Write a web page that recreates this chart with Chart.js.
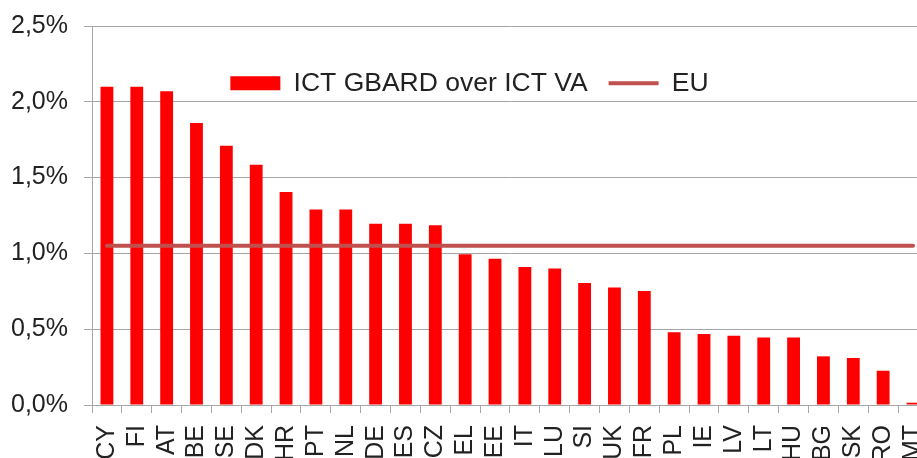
<!DOCTYPE html>
<html>
<head>
<meta charset="utf-8">
<script src="https://cdn.jsdelivr.net/npm/chart.js@4.4.0/dist/chart.umd.min.js"></script>
<style>
  html, body { margin: 0; padding: 0; background: #fff; overflow: hidden; }
  #wrap { width: 955px; height: 458px; }
</style>
</head>
<body>
<div id="wrap"><canvas id="chart"></canvas></div>
<script>
// ── Data ─────────────────────────────────────────────────────────────────
var countries = ['CY', 'FI', 'AT', 'BE', 'SE', 'DK', 'HR', 'PT', 'NL', 'DE', 'ES', 'CZ', 'EL', 'EE',
                 'IT', 'LU', 'SI', 'UK', 'FR', 'PL', 'IE', 'LV', 'LT', 'HU', 'BG', 'SK', 'RO', 'MT'];
var gbardShare = [2.10, 2.10, 2.07, 1.86, 1.71, 1.585, 1.405, 1.29, 1.29, 1.195, 1.195, 1.185, 0.995, 0.965,
                  0.91, 0.90, 0.805, 0.775, 0.752, 0.48, 0.468, 0.457, 0.446, 0.446, 0.321, 0.31, 0.226, 0.015];
var euShare = [1.05, 1.05, 1.05, 1.05, 1.05, 1.05, 1.05, 1.05, 1.05, 1.05, 1.05, 1.05, 1.05, 1.05,
               1.05, 1.05, 1.05, 1.05, 1.05, 1.05, 1.05, 1.05, 1.05, 1.05, 1.05, 1.05, 1.05, 1.05];
var yMax = 2.5;
var yStep = 0.5;

var GRID = '#a6a6a6';
var TEXT = '#222222';
var FONT = '"Liberation Sans", Arial, sans-serif';

// legend sits inside the plot area in the original, so move it after layout
var moveLegend = {
    id: 'moveLegend',
    beforeDraw: function (chart) {
        var lg = chart.legend;
        lg.top = 49;
        lg.bottom = 125;
        lg.height = 76;
        lg.left = -8;
        lg.right = lg.left + lg.width;
    }
};

new Chart(document.getElementById('chart'), {
    data: {
        labels: countries,
        datasets: [{
            type: 'bar',
            label: 'ICT GBARD over ICT VA',
            data: gbardShare,
            backgroundColor: '#ff0000',
            borderWidth: 0,
            pointStyle: 'rect',
            categoryPercentage: 1.0,
            barPercentage: 0.43,
            order: 1
        }, {
            type: 'line',
            label: 'EU',
            data: euShare,
            borderColor: '#c0504d',
            borderWidth: 4,
            borderCapStyle: 'round',
            pointRadius: 0,
            pointStyle: 'line',
            pointBorderWidth: 4,
            pointBorderColor: '#c0504d',
            pointBackgroundColor: '#c0504d',
            order: 0
        }]
    },
    plugins: [moveLegend],
    options: {
        responsive: true,
        maintainAspectRatio: false,
        animation: false,
        layout: { padding: 0 },
        plugins: {
            tooltip: { enabled: false },
            legend: {
                position: 'top',
                maxHeight: 26,
                labels: {
                    usePointStyle: true,
                    pointStyleWidth: 50,
                    boxWidth: 50,
                    boxHeight: 14,
                    padding: 21,
                    color: TEXT,
                    font: { family: FONT, size: 26.5 },
                    sort: function (a, b) { return a.datasetIndex - b.datasetIndex; }
                }
            }
        },
        scales: {
            x: {
                grid: { offset: true, drawOnChartArea: false, color: GRID, tickLength: 8 },
                border: { color: GRID, width: 1 },
                ticks: {
                    autoSkip: false,
                    minRotation: 90,
                    maxRotation: 90,
                    padding: 12,
                    color: TEXT,
                    font: { family: FONT, size: 25 }
                },
                afterFit: function (scale) { scale.height = 53; }
            },
            y: {
                min: 0,
                max: yMax,
                grid: { color: GRID, tickLength: 8 },
                border: { color: GRID, width: 1 },
                ticks: {
                    stepSize: yStep,
                    padding: 16,
                    color: TEXT,
                    font: { family: FONT, size: 25 },
                    callback: function (v) { return v.toFixed(1).replace('.', ',') + '%'; }
                },
                afterFit: function (scale) {
                    scale.width = 92;
                    scale.paddingTop = 15;
                }
            }
        }
    }
});
</script>
</body>
</html>
